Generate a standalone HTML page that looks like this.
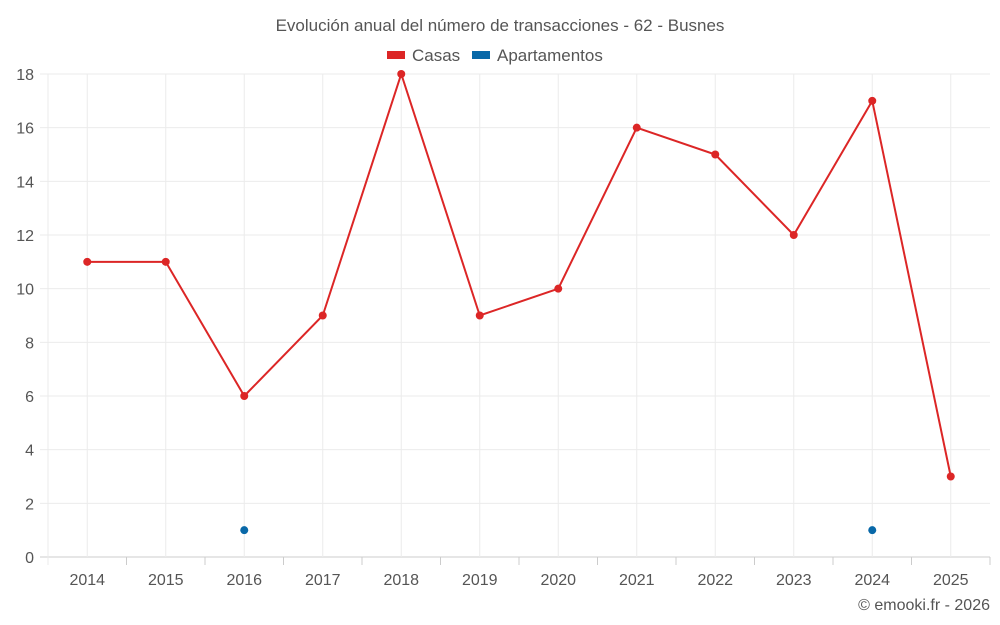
<!DOCTYPE html>
<html><head><meta charset="utf-8"><style>
body{margin:0;background:#fff;}
svg{display:block;font-family:"Liberation Sans",sans-serif;}
</style></head><body>
<svg id="c" width="1000" height="625">
<text x="500" y="31" text-anchor="middle" font-size="17" fill="#555">Evolución anual del número de transacciones - 62 - Busnes</text>
<g>
<g><rect x="387" y="51" width="18" height="8" fill="#dc2626"/><text x="412" y="61" font-size="17" fill="#555">Casas</text></g>
<g><rect x="472" y="51" width="18" height="8" fill="#0868a8"/><text x="497" y="61" font-size="17" fill="#555">Apartamentos</text></g>
</g>
<g id="grid"></g><g id="axes"></g><g id="marks"></g>
<text x="990" y="610" text-anchor="end" font-size="16" fill="#555">© emooki.fr - 2026</text>
</svg>
<script>
const years=[2014,2015,2016,2017,2018,2019,2020,2021,2022,2023,2024,2025];
const casas=[11,11,6,9,18,9,10,16,15,12,17,3];
const apartamentos=[null,null,1,null,null,null,null,null,null,null,1,null];
const yTicks=[0,2,4,6,8,10,12,14,16,18];
const L=48,R=990,T=74,B=557,ns="http://www.w3.org/2000/svg";
const bw=(R-L)/years.length;
const x=i=>L+bw*(i+0.5);
const y=v=>B-(v/18)*(B-T);
function mk(tag,attrs,parent,txt){const e=document.createElementNS(ns,tag);for(const k in attrs)e.setAttribute(k,attrs[k]);if(txt!=null)e.textContent=txt;document.getElementById(parent).appendChild(e);return e;}
yTicks.forEach(v=>{
 let g=mk('line',{x1:L-8,x2:R,y1:y(v),y2:y(v),stroke:v===0?'#ccc':'#ebebeb'},'grid');
 
 
 let t=mk('text',{x:34,y:y(v)+6,'text-anchor':'end','font-size':16,fill:'#555'},'axes',v);
 
 
});
mk('line',{x1:L,x2:L,y1:T,y2:B+8,stroke:'#ebebeb'},'grid');
years.forEach((yr,i)=>{
 let g=mk('line',{x1:x(i),x2:x(i),y1:T,y2:B,stroke:'#ebebeb'},'grid');
 
 
 mk('line',{x1:L+bw*(i+1),x2:L+bw*(i+1),y1:B,y2:B+8,stroke:'#ccc'},'grid');
 let t=mk('text',{x:x(i),y:585,'text-anchor':'middle','font-size':16,fill:'#555'},'axes',yr);
 
 
});
let p=mk('polyline',{points:casas.map((v,i)=>x(i)+','+y(v)).join(' '),fill:'none',stroke:'#dc2626','stroke-width':2},'marks');


casas.forEach((v,i)=>{
 let c=mk('circle',{cx:x(i),cy:y(v),r:4,fill:'#dc2626'},'marks');
 
 
});
apartamentos.forEach((v,i)=>{
 if(v==null)return;
 let c=mk('circle',{cx:x(i),cy:y(v),r:4,fill:'#0868a8'},'marks');
 
 
});
</script>
</body></html>
